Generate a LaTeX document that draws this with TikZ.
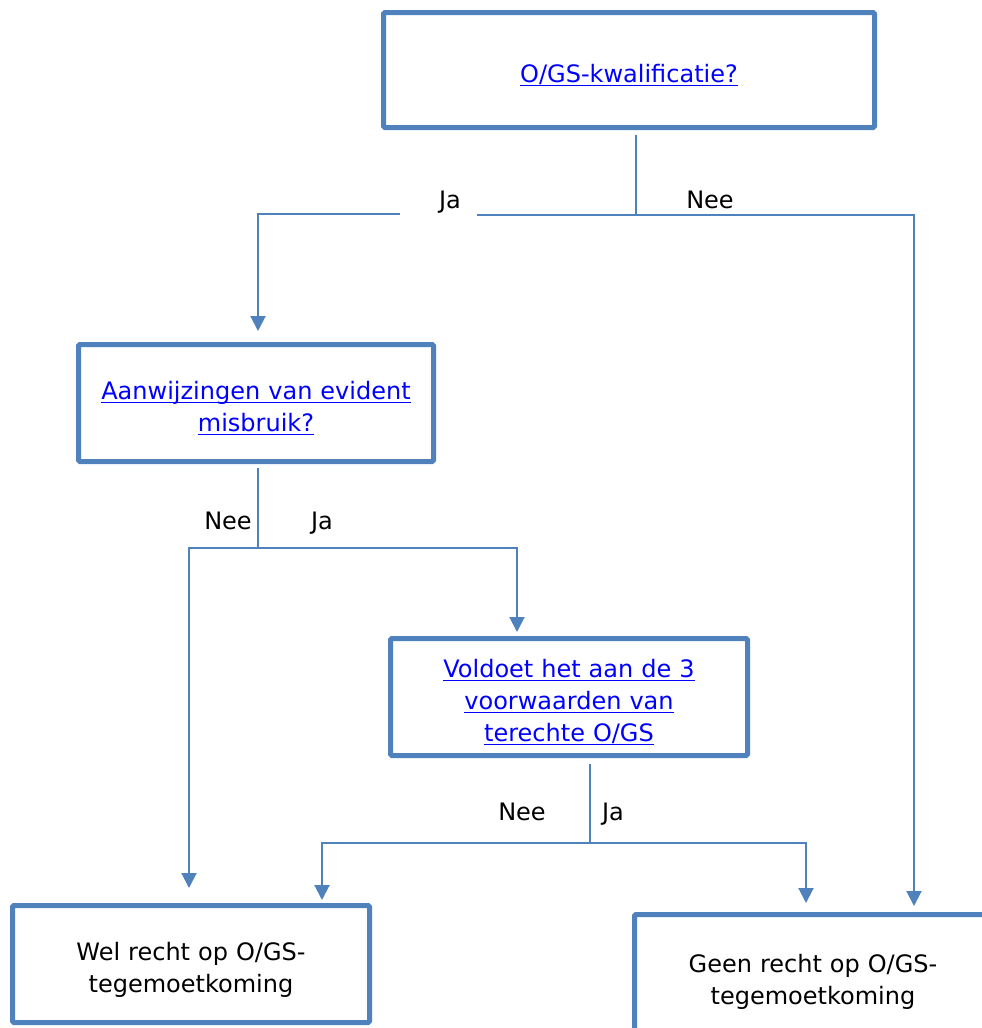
\documentclass[tikz,border=0pt]{standalone}
\usepackage{fontspec}
\setmainfont{DejaVu Sans}
\usetikzlibrary{arrows.meta}
\definecolor{boxblue}{HTML}{4F81BD}
\definecolor{linkblue}{HTML}{0000FF}
\newlength{\lnkw}
\newcommand{\lnk}[1]{\settowidth{\lnkw}{#1}\textcolor{linkblue}{#1\hspace{-\lnkw}\rule[-3.5pt]{\lnkw}{1.6pt}}}
\tikzset{
  box/.style={draw=boxblue, line width=5pt, rounded corners=1.5pt, fill=white,
    inner sep=0pt, align=center, text width=330pt,
    font=\fontsize{24}{32}\selectfont,
    execute at begin node={\rule{0pt}{29pt}}},
  conn/.style={draw=boxblue, line width=2pt},
  arr/.style={conn, -{Triangle[width=15pt,length=15pt]}},
  lbl/.style={inner sep=0pt, font=\fontsize{24}{32}\selectfont, anchor=base}
}
\begin{document}
\begin{tikzpicture}[x=1pt,y=-1pt]
\clip (0,0) rectangle (982,1028);
\fill[white] (0,0) rectangle (982,1028);
% boxes
\node[box, minimum width=491pt, minimum height=115pt] (top) at (629,70) {\lnk{O/GS-kwalificatie?}};
\node[box, minimum width=355pt, minimum height=117pt] (box2) at (256,403) {\lnk{Aanwijzingen van evident}\\\lnk{misbruik?}};
\node[box, minimum width=357pt, minimum height=117pt] (box3) at (569,697) {\lnk{Voldoet het aan de 3}\\\lnk{voorwaarden van}\\\lnk{terechte O/GS}};
\node[box, minimum width=357pt, minimum height=117pt] (wel) at (191,964) {Wel recht op O/GS-\\tegemoetkoming};
\node[box, minimum width=357pt, minimum height=123pt] (geen) at (813,976) {Geen recht op O/GS-\\tegemoetkoming};
% junctions
\coordinate (j1) at (636,215);
\coordinate (ja1a) at (477,215);
\coordinate (ja1b) at (400,214);
\coordinate (c1) at (258,214);
\coordinate (c2) at (914,215);
\coordinate (j2) at (258,548);
\coordinate (c3) at (189,548);
\coordinate (c4) at (517,548);
\coordinate (j3) at (590,843);
\coordinate (c5) at (322,843);
\coordinate (c6) at (806,843);
% connectors
\draw[conn, shorten <=5pt] (top.south -| j1) -- (j1);
\draw[conn] (j1) -- (ja1a);
\draw[arr, shorten >=11pt] (ja1b) -- (c1) -- (box2.north -| c1);
\draw[arr, shorten >=6pt] (j1) -- (c2) -- (geen.north -| c2);
\draw[conn, shorten <=4pt] (box2.south -| j2) -- (j2);
\draw[arr, shorten >=15pt] (j2) -- (c3) -- (wel.north -| c3);
\draw[arr, shorten >=4pt] (j2) -- (c4) -- (box3.north -| c4);
\draw[conn, shorten <=6pt] (box3.south -| j3) -- (j3);
\draw[arr, shorten >=3pt] (j3) -- (c5) -- (wel.north -| c5);
\draw[arr, shorten >=9pt] (j3) -- (c6) -- (geen.north -| c6);
% labels
\node[lbl] (lja1) at (450,208) {Ja};
\node[lbl] (lnee1) at (710,208) {Nee};
\node[lbl] (lnee2) at (228,529) {Nee};
\node[lbl] (lja2) at (322,529) {Ja};
\node[lbl] (lnee3) at (522,820) {Nee};
\node[lbl] (lja3) at (613,820) {Ja};
\end{tikzpicture}
\end{document}
